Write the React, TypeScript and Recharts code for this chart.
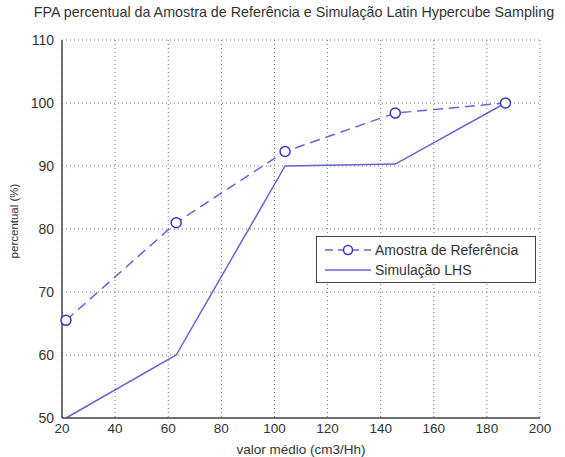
import { LineChart, Line, XAxis, YAxis, CartesianGrid } from 'recharts';

const valorMedio = [21.5, 63, 104, 145.5, 187];
const amostraReferencia = [65.5, 81, 92.3, 98.4, 100];
const simulacaoLHS = [50, 60, 90, 90.3, 100];
const xTicks = [20, 40, 60, 80, 100, 120, 140, 160, 180, 200];
const yTicks = [50, 60, 70, 80, 90, 100, 110];

const data = valorMedio.map((x, i) => ({
  x,
  amostra: amostraReferencia[i],
  lhs: simulacaoLHS[i],
}));

const lineColor = '#6464d8';
const markerColor = '#3838c8';
const textColor = '#333';
const font = '"Liberation Sans", Arial, sans-serif';

// legend box drawn like matlab's, on top of the plot
const LegendBox = () => (
  <div
    style={{
      position: 'absolute',
      left: 316,
      top: 236,
      width: 220,
      height: 47,
      border: '1.5px solid #444',
      background: 'white',
      fontFamily: font,
      fontSize: 14,
      color: textColor,
      boxSizing: 'border-box',
      paddingTop: 3,
    }}
  >
    <div style={{ display: 'flex', alignItems: 'center', height: 20 }}>
      <svg width={58} height={14}>
        <line x1={8} y1={7} x2={54} y2={7} stroke={lineColor} strokeWidth={1.5} strokeDasharray="8 5" />
        <circle cx={31} cy={7} r={4.5} fill="white" stroke={markerColor} strokeWidth={1.5} />
      </svg>
      <span>Amostra de Referência</span>
    </div>
    <div style={{ display: 'flex', alignItems: 'center', height: 20 }}>
      <svg width={58} height={14}>
        <line x1={8} y1={7} x2={54} y2={7} stroke={lineColor} strokeWidth={1.5} />
      </svg>
      <span>Simulação LHS</span>
    </div>
  </div>
);

const App = () => {
  return (
    <div style={{ position: 'absolute', left: 0, top: 0, width: 565, height: 457, background: 'white' }}>
      <div
        style={{
          position: 'absolute',
          left: 0,
          width: 588,
          top: 4,
          textAlign: 'center',
          fontFamily: font,
          fontSize: 14.3,
          color: textColor,
          whiteSpace: 'nowrap',
        }}
      >
        FPA percentual da Amostra de Referência e Simulação Latin Hypercube Sampling
      </div>
      <LineChart
        width={565}
        height={457}
        data={data}
        margin={{ top: 40, right: 25, left: 0, bottom: 0 }}
      >
        <CartesianGrid strokeDasharray="1 3" stroke="#777" />
        <XAxis
          type="number"
          dataKey="x"
          domain={[20, 200]}
          ticks={xTicks}
          interval={0}
          height={39}
          tickLine={false}
          axisLine={{ stroke: '#444', strokeWidth: 1.5 }}
          tick={{ fill: textColor, fontSize: 13.5, fontFamily: font, dy: -3 }}
          label={{
            value: 'valor médio (cm3/Hh)',
            position: 'insideBottom',
            offset: 3,
            fill: textColor,
            fontSize: 13.5,
            fontFamily: font,
          }}
        />
        <YAxis
          type="number"
          domain={[50, 110]}
          ticks={yTicks}
          interval={0}
          width={62}
          tickLine={false}
          axisLine={{ stroke: '#444', strokeWidth: 1.5 }}
          tick={{ fill: textColor, fontSize: 14, fontFamily: font }}
          label={{
            value: 'percentual (%)',
            angle: -90,
            position: 'insideLeft',
            offset: 14,
            dy: -8,
            style: { textAnchor: 'middle' },
            fill: textColor,
            fontSize: 11.5,
            fontFamily: font,
          }}
        />
        <Line
          type="linear"
          dataKey="amostra"
          stroke={lineColor}
          strokeWidth={1.5}
          strokeDasharray="10 6"
          dot={{ r: 5, fill: 'white', stroke: markerColor, strokeWidth: 1.5, strokeDasharray: '' }}
          activeDot={false}
          isAnimationActive={false}
        />
        <Line
          type="linear"
          dataKey="lhs"
          stroke={lineColor}
          strokeWidth={1.5}
          dot={false}
          activeDot={false}
          isAnimationActive={false}
        />
      </LineChart>
      <LegendBox />
    </div>
  );
};

export default App;
